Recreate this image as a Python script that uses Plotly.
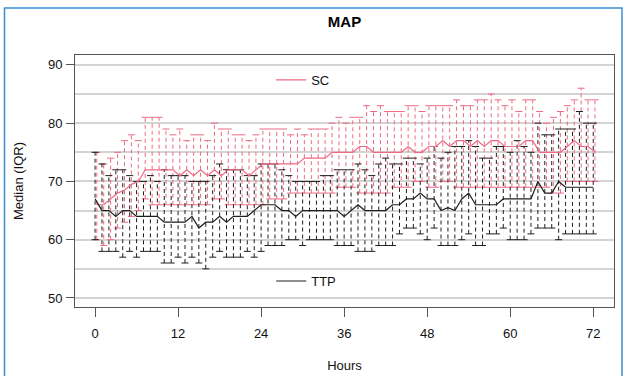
import plotly.graph_objects as go

# ---------------- data ----------------
hours = list(range(73))

sc_median = [66, 66, 67, 68, 68.5, 69.5, 70, 72, 72, 72, 72, 72, 71, 72, 71, 72, 71, 72, 71, 72,
             72, 72, 71, 72, 73, 73, 73, 73, 73, 73, 74, 74, 74, 74, 75, 75, 75, 75, 76, 76,
             75, 75, 75, 75, 75, 76, 75, 75, 76, 76, 77, 76, 77, 77, 76, 77, 76, 77, 77, 76,
             76, 76, 77, 77, 75, 75, 75, 75, 76, 77, 76, 76, 75]
sc_q1 = [60, 59, 60, 62, 63, 64, 65, 67, 66, 66, 66, 66, 66, 66, 66, 66, 66, 67, 67, 66,
         66, 66, 66, 66, 66, 67, 67, 67, 68, 68, 68, 68, 68, 68, 68, 69, 69, 69, 68, 68,
         68, 68, 68, 69, 69, 69, 70, 70, 69, 69, 70, 70, 69, 69, 69, 69, 69, 69, 69, 69,
         69, 69, 69, 69, 69, 69, 68, 68, 70, 70, 70, 70, 70]
sc_q3 = [75, 73, 74, 75, 77, 78, 77, 81, 81, 81, 79, 78, 79, 77, 78, 78, 77, 80, 79, 79,
         78, 78, 77, 78, 79, 79, 79, 79, 78, 79, 78, 79, 79, 79, 80, 81, 80, 81, 81, 83,
         82, 83, 82, 82, 82, 83, 83, 82, 83, 83, 83, 83, 84, 83, 83, 84, 84, 85, 84, 83,
         84, 82, 84, 84, 82, 80, 81, 82, 83, 84, 86, 84, 84]

ttp_median = [67, 65, 65, 64, 65, 65, 64, 64, 64, 64, 63, 63, 63, 63, 64, 62, 63, 63, 64, 63,
              64, 64, 64, 65, 66, 66, 66, 65, 65, 64, 65, 65, 65, 65, 65, 65, 64, 65, 66, 65,
              65, 65, 65, 66, 66, 67, 67, 68, 67, 67, 65, 65.5, 65, 67, 68, 66, 66, 66, 66, 67,
              67, 67, 67, 67, 70, 68, 68, 70, 69, 69, 69, 69, 69]
ttp_q1 = [60, 58, 58, 58, 57, 58, 57, 58, 58, 58, 56, 56, 57, 56, 57, 56, 55, 57, 58, 57,
          57, 57, 58, 57, 58, 59, 59, 59, 60, 60, 59, 60, 60, 60, 60, 59, 59, 59, 58, 58,
          58, 59, 59, 59, 61, 62, 62, 61, 60, 62, 59, 59, 59, 60, 61, 59, 59, 61, 61, 62,
          60, 60, 60, 61, 62, 62, 62, 60, 61, 61, 61, 61, 61]
ttp_q3 = [75, 73, 71, 72, 72, 71, 70, 70, 71, 70, 72, 71, 71, 71, 70, 70, 70, 71, 73, 72,
          72, 72, 71, 71, 73, 73, 73, 72, 71, 70, 70, 70, 70, 71, 71, 72, 72, 72, 73, 72,
          71, 73, 74, 73, 73, 74, 74, 73, 74, 76, 74, 75, 76, 76, 77, 76, 74, 74, 76, 76,
          75, 77, 76, 75, 80, 78, 78, 79, 79, 79, 82, 80, 80]

x_ticks = [0, 12, 24, 36, 48, 60, 72]
y_ticks = [50, 60, 70, 80, 90]

# ---------------- style ----------------
PINK = "#ee6a83"
BLACK = "#1e1e1e"
SC_SHIFT = 0.25
FONT = "Liberation Sans, Arial, sans-serif"


def iqr_traces(xs, lo, hi, color):
    sx, sy = [], []
    for x, a, b in zip(xs, lo, hi):
        sx += [x, x, None]
        sy += [a, b, None]
    seg = go.Scatter(x=sx, y=sy, mode="lines",
                     line=dict(color=color, width=1, dash="4px,3px"),
                     showlegend=False, hoverinfo="skip")
    caps = go.Scatter(x=list(xs) + list(xs), y=list(lo) + list(hi), mode="markers",
                      marker=dict(symbol="line-ew", size=5,
                                  line=dict(color=color, width=1)),
                      showlegend=False, hoverinfo="skip")
    return [seg, caps]


sc_x = [h + SC_SHIFT for h in hours]

fig = go.Figure()
for t in iqr_traces(sc_x, sc_q1, sc_q3, PINK):
    fig.add_trace(t)
for t in iqr_traces(hours, ttp_q1, ttp_q3, BLACK):
    fig.add_trace(t)

fig.add_trace(go.Scatter(x=sc_x, y=sc_median, mode="lines", name="SC",
                         line=dict(color=PINK, width=1.2), legend="legend"))
fig.add_trace(go.Scatter(x=hours, y=ttp_median, mode="lines", name="TTP",
                         line=dict(color=BLACK, width=1.2), legend="legend2"))

legend_common = dict(xanchor="left", yanchor="middle", bgcolor="rgba(0,0,0,0)",
                     font=dict(family=FONT, size=13, color="#111"), itemwidth=30,
                     borderwidth=0)

fig.update_layout(
    width=626, height=376,
    margin=dict(l=75, r=12, t=55, b=69, autoexpand=False),
    paper_bgcolor="white", plot_bgcolor="white",
    font=dict(family=FONT, size=13, color="#111"),
    title=dict(text="<b>MAP</b>", x=0.5, xref="paper", y=1 - 22 / 376,
               yref="container", xanchor="center", yanchor="middle",
               font=dict(family=FONT, size=15, color="#000")),
    legend=dict(x=0.364, y=0.9008, **legend_common),
    legend2=dict(x=0.364, y=0.103, **legend_common),
    xaxis=dict(range=[-2.9, 75.0], tickvals=x_ticks, ticktext=[str(v) for v in x_ticks],
               showgrid=False, zeroline=False, showline=True, mirror=True,
               linecolor="#555", linewidth=1, ticks="outside", ticklen=9,
               tickcolor="#555", ticklabelstandoff=5, automargin=False,
               title=dict(text="Hours", standoff=21, font=dict(size=13))),
    yaxis=dict(range=[48.45, 91.7], tickvals=y_ticks, ticktext=[str(v) for v in y_ticks],
               showgrid=True, gridcolor="#d4d4d4", gridwidth=1.5, zeroline=False,
               showline=True, mirror=True, linecolor="#555", linewidth=1,
               ticks="outside", ticklen=8, tickcolor="#555", ticklabelstandoff=1,
               automargin=False,
               minor=dict(dtick=5, showgrid=True, gridcolor="#d4d4d4", gridwidth=1.5),
               title=dict(text="Median (IQR)", standoff=21, font=dict(size=13))),
    shapes=[dict(type="rect", xref="paper", yref="paper",
                 x0=(4.5 - 75) / 539, x1=(622 - 75) / 539,
                 y0=-0.4, y1=(307 - 8) / 252,
                 line=dict(color="#3a8fd3", width=1.5), fillcolor="rgba(0,0,0,0)",
                 layer="above")],
)

fig.write_html("out.html", config={"displayModeBar": False},
               post_script="document.body.style.margin='0';document.body.style.overflow='hidden';")
